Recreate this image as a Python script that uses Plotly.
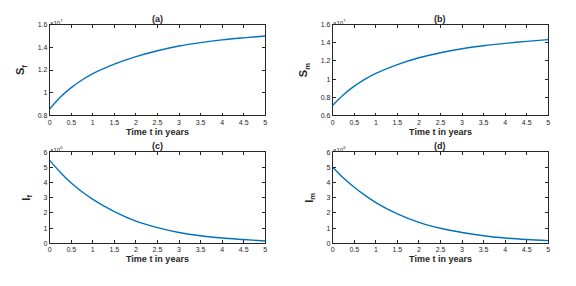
import plotly.graph_objects as go

t = [0, 0.25, 0.5, 0.75, 1, 1.5, 2, 2.5, 3, 3.5, 4, 4.5, 5]
S_f = [0.857e7, 0.962e7, 1.045e7, 1.112e7, 1.168e7, 1.252e7, 1.318e7, 1.370e7, 1.412e7, 1.442e7, 1.466e7, 1.484e7, 1.500e7]
S_m = [0.712e7, 0.828e7, 0.922e7, 0.999e7, 1.063e7, 1.160e7, 1.235e7, 1.290e7, 1.335e7, 1.368e7, 1.394e7, 1.416e7, 1.435e7]
I_f = [5.48e6, 4.68e6, 3.98e6, 3.40e6, 2.90e6, 2.09e6, 1.46e6, 1.03e6, 0.71e6, 0.49e6, 0.34e6, 0.24e6, 0.15e6]
I_m = [5.03e6, 4.31e6, 3.70e6, 3.16e6, 2.69e6, 1.94e6, 1.38e6, 0.99e6, 0.71e6, 0.49e6, 0.34e6, 0.24e6, 0.17e6]
x_tickvals = [0, 0.5, 1, 1.5, 2, 2.5, 3, 3.5, 4, 4.5, 5]
x_ticktext = ["0", "0.5", "1", "1.5", "2", "2.5", "3", "3.5", "4", "4.5", "5"]

# the page body adds an 8px margin; domains are set so the axes land where the reference has them
W, H, OFF = 576, 286, 8


def xdom(a, b):
    return [(a - OFF) / W, (b - OFF) / W]


def ydom(top, bottom):
    return [1 - (bottom - OFF) / H, 1 - (top - OFF) / H]


panels = [
    dict(y=S_f, title="(a)", ylab="S<sub>f</sub>", exp="7", scale=1e7, yr=[0.8, 1.6], dt=0.2,
         xd=xdom(48, 265), yd=ydom(21, 114)),
    dict(y=S_m, title="(b)", ylab="S<sub>m</sub>", exp="7", scale=1e7, yr=[0.6, 1.6], dt=0.2,
         xd=xdom(333, 550), yd=ydom(21, 114)),
    dict(y=I_f, title="(c)", ylab="I<sub>f</sub>", exp="6", scale=1e6, yr=[0, 6], dt=1,
         xd=xdom(48, 265), yd=ydom(152, 245)),
    dict(y=I_m, title="(d)", ylab="I<sub>m</sub>", exp="6", scale=1e6, yr=[0, 6], dt=1,
         xd=xdom(333, 550), yd=ydom(152, 245)),
]

FONT = "Liberation Sans, Arial, sans-serif"
fig = go.Figure()
annotations = []
layout = {}
for i, p in enumerate(panels, start=1):
    xa = "x" if i == 1 else f"x{i}"
    ya = "y" if i == 1 else f"y{i}"
    fig.add_trace(go.Scatter(
        x=t, y=[v / p["scale"] for v in p["y"]], mode="lines", line_shape="spline",
        line=dict(color="#0072BD", width=1.4, smoothing=1), xaxis=xa, yaxis=ya, showlegend=False))
    common = dict(showline=True, linecolor="#262626", linewidth=0.8, mirror="ticks",
                  ticks="inside", ticklen=3, tickcolor="#262626", showgrid=False, zeroline=False,
                  tickfont=dict(family=FONT, size=7, color="#262626"))
    layout["xaxis" if i == 1 else f"xaxis{i}"] = dict(
        domain=p["xd"], anchor=ya, range=[0, 5], tickmode="array",
        tickvals=x_tickvals, ticktext=x_ticktext,
        title=dict(text="<b>Time t in years</b>", font=dict(family=FONT, size=9, color="#262626"),
                   standoff=3),
        **common)
    layout["yaxis" if i == 1 else f"yaxis{i}"] = dict(
        domain=p["yd"], anchor=xa, range=p["yr"], dtick=p["dt"],
        title=dict(text=f"<b>{p['ylab']}</b>", font=dict(family=FONT, size=11, color="#262626"),
                   standoff=10),
        **common)
    xc = (p["xd"][0] + p["xd"][1]) / 2
    annotations.append(dict(text=f"<b>{p['title']}</b>", x=xc, y=p["yd"][1], xref="paper", yref="paper",
                            xanchor="center", yanchor="bottom", showarrow=False, yshift=-1,
                            font=dict(family=FONT, size=9, color="#262626")))
    annotations.append(dict(text=f"×10<sup>{p['exp']}</sup>", x=p["xd"][0], y=p["yd"][1],
                            xref="paper", yref="paper", xanchor="left", yanchor="bottom",
                            showarrow=False, yshift=-3, xshift=-2,
                            font=dict(family=FONT, size=6, color="#262626")))

fig.update_layout(width=W, height=H, margin=dict(l=0, r=0, t=0, b=0),
                  paper_bgcolor="white", plot_bgcolor="white", annotations=annotations, **layout)
fig.write_html("out.html")
